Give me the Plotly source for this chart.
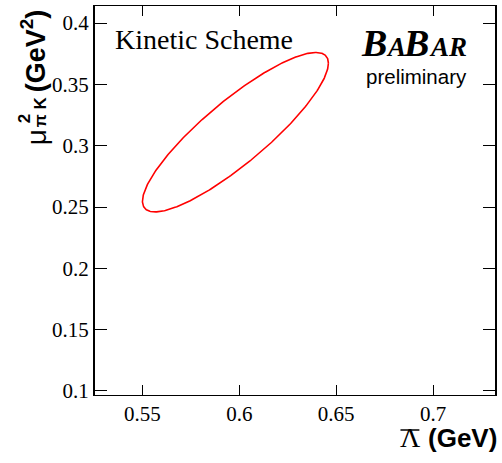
import numpy as np
import plotly.graph_objects as go

# Fit result: central values, uncertainties and correlation of (Lambda-bar, mu_pi^2)
lambda_bar = 0.598      # GeV
mu_pi2 = 0.311          # GeV^2
sigma_lambda = 0.048    # GeV
sigma_mu = 0.065        # GeV^2
rho = 0.865

# Axis ticks
x_ticks = [0.55, 0.6, 0.65, 0.7]
x_ticktext = ["0.55", "0.6", "0.65", "0.7"]
y_ticks = [0.1, 0.15, 0.2, 0.25, 0.3, 0.35, 0.4]
y_ticktext = ["0.1", "0.15", "0.2", "0.25", "0.3", "0.35", "0.4"]

x_range = [0.5255, 0.7320]
y_range = [0.0967, 0.4139]

# one-sigma contour of the 2D fit
t = np.linspace(0, 2 * np.pi, 400)
ell_x = lambda_bar + sigma_lambda * np.cos(t)
ell_y = mu_pi2 + sigma_mu * (rho * np.cos(t) + np.sqrt(1 - rho**2) * np.sin(t))

W, H = 502, 463
ML, MR, MT, MB = 95, 5, 6, 68
PW, PH = W - ML - MR, H - MT - MB


def px(xp):
    return (xp - ML) / PW


def py(yp):
    return (H - MB - yp) / PH


fig = go.Figure()
fig.add_trace(go.Scatter(x=ell_x, y=ell_y, mode="lines",
                         line=dict(color="#ff0000", width=1.6), showlegend=False))

serif = "Liberation Serif"
sans = "Liberation Sans"

fig.update_xaxes(range=x_range, tickmode="array", tickvals=x_ticks, ticktext=x_ticktext,
                 ticks="inside", ticklen=10, tickwidth=1, tickcolor="black",
                 showline=True, linecolor="black", linewidth=1, mirror="ticks",
                 tickfont=dict(family=serif, size=21, color="black"))
fig.update_yaxes(range=y_range, tickmode="array", tickvals=y_ticks, ticktext=y_ticktext,
                 ticks="inside", ticklen=12, tickwidth=1, tickcolor="black",
                 showline=True, linecolor="black", linewidth=2, mirror="ticks",
                 tickfont=dict(family=serif, size=21, color="black"))


def label(text, x, y, size, family, xanchor="left", yanchor="middle", angle=0):
    return dict(text=text, x=px(x), y=py(y), xref="paper", yref="paper",
                xanchor=xanchor, yanchor=yanchor, textangle=angle, showarrow=False,
                font=dict(family=family, size=size, color="black"))


ann = [
    label("Kinetic Scheme", 113, 40, 28, serif),
    # experiment logo: large B's, small-capital A, A, R
    label("<b><i>B</i></b>", 360, 66, 38, serif, yanchor="bottom"),
    label("<b><i>A</i></b>", 385, 64, 27, serif, yanchor="bottom"),
    label("<b><i>B</i></b>", 403, 66, 38, serif, yanchor="bottom"),
    label("<b><i>AR</i></b>", 429, 64, 27, serif, yanchor="bottom"),
    label("preliminary", 418, 76, 20.5, sans, xanchor="center"),
    # x-axis title
    label("Λ", 400, 455, 28, serif, yanchor="bottom"),
    label("<b>(GeV)</b>", 501, 455, 26, sans, xanchor="right", yanchor="bottom"),
    # y-axis title
    label("μ", 36, 137, 28, sans, xanchor="center", angle=-90),
    label("<b>2</b>", 24, 119, 17, sans, xanchor="center", angle=-90),
    label("<b>π K</b>", 40, 112, 17, sans, xanchor="center", angle=-90),
    label("<b>(GeV<sup>2</sup>)</b>", 33, 51, 27, sans, xanchor="center", angle=-90),
]

fig.update_layout(
    width=W, height=H, margin=dict(l=ML, r=MR, t=MT, b=MB),
    plot_bgcolor="white", paper_bgcolor="white",
    annotations=ann,
    shapes=[dict(type="line", xref="paper", yref="paper",
                 x0=px(402), x1=px(421), y0=py(430), y1=py(430),
                 line=dict(color="black", width=1.5))],
)

fig.write_html("out.html")
